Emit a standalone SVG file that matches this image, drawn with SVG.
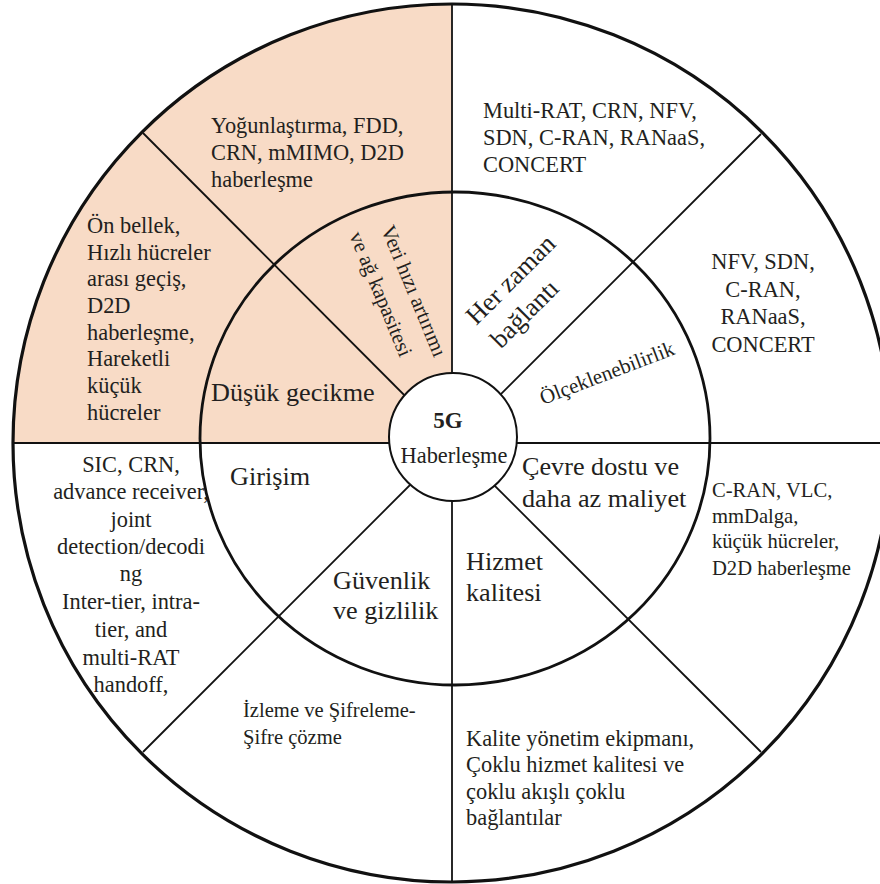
<svg xmlns="http://www.w3.org/2000/svg" width="880" height="884" viewBox="0 0 880 884">
  <style>
    text { font-family: "Liberation Serif", "Times New Roman", serif; fill: #231f20; }
    .b { font-size: 22.4px; }
    .s { font-size: 20.6px; }
    .l { font-size: 26.2px; }
    .m { text-anchor: middle; }
    .ring { fill: none; stroke: #111; }
    .div { stroke: #111; stroke-width: 1.8; fill: none; }
  </style>

  <!-- background disc and shaded quadrant -->
  <g id="disc">
    <rect x="0" y="0" width="880" height="884" fill="#ffffff"/>
    <circle cx="452" cy="443" r="439" fill="#ffffff"/>
    <path d="M452,443 L452,4 A439,439 0 0 0 13,443 Z" fill="#f8dbc6"/>
  </g>

  <!-- radial dividers and rings -->
  <g id="connectors">
    <line class="div" x1="452" y1="4" x2="452" y2="882"/>
    <line class="div" x1="13" y1="443" x2="880" y2="443"/>
    <line class="div" x1="143" y1="133" x2="452" y2="443"/>
    <line class="div" x1="761" y1="134" x2="452" y2="443"/>
    <line class="div" x1="143" y1="752" x2="452" y2="443"/>
    <line class="div" x1="761" y1="752" x2="452" y2="443"/>
    <ellipse class="ring" cx="455" cy="438.5" rx="255" ry="246.5" stroke-width="2.8"/>
    <circle class="ring" cx="452" cy="443" r="439" stroke-width="3.2"/>
  </g>

  <!-- upper-left quadrant -->
  <g id="veri-hizi">
    <text transform="translate(414,291) rotate(67.5)" class="m" font-size="21" y="7">Veri hızı artırımı</text>
    <text transform="translate(381,294) rotate(67.5)" class="m" font-size="21" y="7">ve ağ kapasitesi</text>
    <text class="b" x="211" y="133">Yoğunlaştırma, FDD,</text>
    <text class="b" x="211" y="160">CRN, mMIMO, D2D</text>
    <text class="b" x="211" y="187">haberleşme</text>
  </g>
  <g id="dusuk-gecikme">
    <text class="l" x="211" y="401">Düşük gecikme</text>
    <text class="b" x="87" y="233">Ön bellek,</text>
    <text class="b" x="87" y="260">Hızlı hücreler</text>
    <text class="b" x="87" y="286">arası geçiş,</text>
    <text class="b" x="87" y="313">D2D</text>
    <text class="b" x="87" y="340">haberleşme,</text>
    <text class="b" x="87" y="366">Hareketli</text>
    <text class="b" x="87" y="393">küçük</text>
    <text class="b" x="87" y="420">hücreler</text>
  </g>

  <!-- upper-right quadrant -->
  <g id="her-zaman">
    <text transform="translate(511,280) rotate(-45)" class="m l" y="8">Her zaman</text>
    <text transform="translate(525,314) rotate(-45)" class="m l" y="8">bağlantı</text>
    <text class="b" x="483" y="118">Multi-RAT, CRN, NFV,</text>
    <text class="b" x="483" y="145">SDN, C-RAN, RANaaS,</text>
    <text class="b" x="483" y="172">CONCERT</text>
  </g>
  <g id="olceklenebilirlik">
    <text transform="translate(607,373) rotate(-21)" class="m" font-size="21" y="7">Ölçeklenebilirlik</text>
    <text class="b m" x="763" y="269">NFV, SDN,</text>
    <text class="b m" x="763" y="297">C-RAN,</text>
    <text class="b m" x="763" y="324">RANaaS,</text>
    <text class="b m" x="763" y="352">CONCERT</text>
  </g>

  <!-- lower-right quadrant -->
  <g id="cevre-dostu">
    <text class="l" x="522" y="475">Çevre dostu ve</text>
    <text class="l" x="522" y="507">daha az maliyet</text>
    <text class="s" x="712" y="497">C-RAN, VLC,</text>
    <text class="s" x="712" y="523">mmDalga,</text>
    <text class="s" x="712" y="548">küçük hücreler,</text>
    <text class="s" x="712" y="575">D2D haberleşme</text>
  </g>
  <g id="hizmet-kalitesi">
    <text class="l" x="466" y="570">Hizmet</text>
    <text class="l" x="466" y="601">kalitesi</text>
    <text class="b" x="466" y="746">Kalite yönetim ekipmanı,</text>
    <text class="b" x="466" y="772">Çoklu hizmet kalitesi ve</text>
    <text class="b" x="466" y="799">çoklu akışlı çoklu</text>
    <text class="b" x="466" y="825">bağlantılar</text>
  </g>

  <!-- lower-left quadrant -->
  <g id="guvenlik">
    <text class="l" x="333" y="589">Güvenlik</text>
    <text class="l" x="333" y="619">ve gizlilik</text>
    <text class="s" x="243" y="717">İzleme ve Şifreleme-</text>
    <text class="s" x="243" y="744">Şifre çözme</text>
  </g>
  <g id="girisim">
    <text class="l" x="230" y="485">Girişim</text>
    <text class="b m" x="131" y="472">SIC, CRN,</text>
    <text class="b m" x="131" y="499">advance receiver,</text>
    <text class="b m" x="131" y="527">joint</text>
    <text class="b m" x="131" y="554">detection/decodi</text>
    <text class="b m" x="131" y="581">ng</text>
    <text class="b m" x="131" y="609">Inter-tier, intra-</text>
    <text class="b m" x="131" y="637">tier, and</text>
    <text class="b m" x="131" y="665">multi-RAT</text>
    <text class="b m" x="131" y="692">handoff,</text>
  </g>

  <!-- hub -->
  <g id="hub">
    <circle cx="453" cy="437" r="64" fill="#ffffff" stroke="#111" stroke-width="2"/>
    <text class="m" x="448" y="428" font-size="23" font-weight="bold">5G</text>
    <text class="m b" x="454" y="463">Haberleşme</text>
  </g>
</svg>
